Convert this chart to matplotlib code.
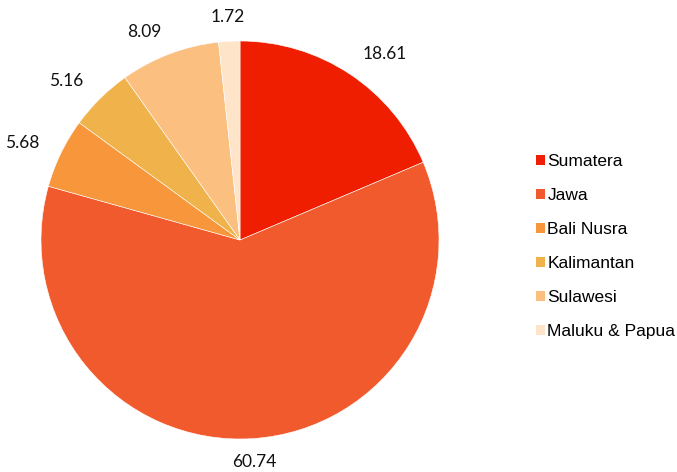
import matplotlib
matplotlib.use("Agg")
import matplotlib.pyplot as plt
import numpy as np
from matplotlib.patches import Patch

categories = ["Sumatera", "Jawa", "Bali Nusra", "Kalimantan", "Sulawesi", "Maluku & Papua"]
values = [18.61, 60.74, 5.68, 5.16, 8.09, 1.72]
labels = ["18.61", "60.74", "5.68", "5.16", "8.09", "1.72"]
colors = ["#F01E00", "#F15A2D", "#F7963A", "#F0B34C", "#FBBF80", "#FEE5CA"]

W, H = 677, 472
fig = plt.figure(figsize=(W / 100, H / 100), dpi=100)
cx, cy, r = 240, 240, 199
ax = fig.add_axes([(cx - r) / W, (H - cy - r) / H, 2 * r / W, 2 * r / H])
wedges, _ = ax.pie(values, colors=colors, startangle=90,
                   counterclock=False,
                   wedgeprops=dict(edgecolor="white", linewidth=0.4))
d = 1.12
for w, lab in zip(wedges, labels):
    ang = np.deg2rad((w.theta1 + w.theta2) / 2)
    c, s = np.cos(ang), np.sin(ang)
    if c > 0.3:
        ha = "left"
    elif c < -0.3:
        ha = "right"
    else:
        ha = "center"
    ax.text(d * c, d * s, lab, ha=ha, va="center", fontsize=12.5,
            family="Lato", color="#111111", clip_on=False)
ax.set_xlim(-1, 1)
ax.set_ylim(-1, 1)
ax.set_aspect("equal")

handles = [Patch(facecolor=c, edgecolor="none") for c in colors]
leg = fig.legend(handles, categories, loc="center left",
                 bbox_to_anchor=(536 / W, (H - 246.5) / H),
                 frameon=False, borderpad=0, borderaxespad=0,
                 handlelength=0.5, handleheight=0.5, handletextpad=0.15,
                 labelspacing=1.1,
                 prop=dict(family="Liberation Sans", size=12.5))
fig.savefig("out.png", dpi=100)
